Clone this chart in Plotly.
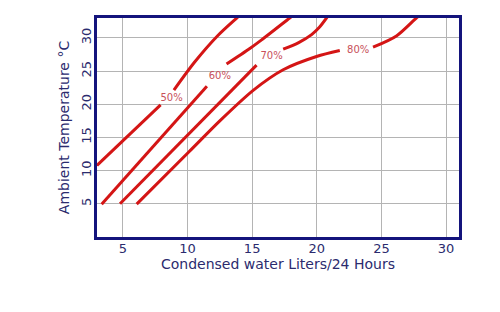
import plotly.graph_objects as go

# Curves (x = condensed water L/24h, y = ambient temperature °C); None = gap for label
x50 = [3.0, 7.92, None, 8.95, 10.57, 12.37, 13.92, 14.3]
y50 = [10.8, 19.9, None, 22.14, 26.4, 30.4, 33.2, 33.9]

x60 = [3.36, 11.5, None, 13.02, 14.82, 15.73, 17.9, 18.3]
y60 = [4.95, 22.7, None, 26.06, 28.4, 29.7, 33.0, 33.6]

x70 = [4.78, 15.34, None, 17.4, 18.6, 19.6, 20.2, 20.75, 21.0]
y70 = [5.0, 25.9, None, 28.3, 29.3, 30.5, 31.6, 33.0, 33.7]

x80 = [6.07, 10.1, 12.5, 15.08, 17.4, 19.98, 21.78, None, 24.35, 26.16, 27.7, 28.1]
y80 = [4.95, 12.8, 17.5, 22.1, 25.2, 27.2, 28.1, None, 28.6, 30.3, 33.0, 33.6]

labels = ["50%", "60%", "70%", "80%"]
label_x = [8.77, 12.5, 16.5, 23.2]
label_y = [20.85, 24.2, 27.15, 28.1]

x_ticks = [5, 10, 15, 20, 25, 30]
y_ticks = [5, 10, 15, 20, 25, 30]

RED = "#d41515"
NAVY = "#14147c"
TXT = "#2b2b6e"

fig = go.Figure()
for xs, ys in [(x50, y50), (x60, y60), (x70, y70), (x80, y80)]:
    fig.add_trace(go.Scatter(x=xs, y=ys, mode="lines",
                             line=dict(color=RED, width=3, shape="spline", smoothing=0.8),
                             connectgaps=False, showlegend=False, hoverinfo="skip"))

fig.add_trace(go.Scatter(x=label_x, y=label_y, mode="text", text=labels,
                         textfont=dict(family="DejaVu Sans", size=10, color="#c8505a"),
                         showlegend=False, hoverinfo="skip"))

fig.update_layout(
    width=500, height=312,
    margin=dict(l=97, r=41, t=18, b=75),
    paper_bgcolor="white", plot_bgcolor="white",
    font=dict(family="DejaVu Sans", color=TXT),
    xaxis=dict(range=[3, 31], tickvals=x_ticks, showgrid=True, gridcolor="#b4b4b4",
               gridwidth=1, zeroline=False, tickfont=dict(size=13, color=TXT),
               ticklabelstandoff=-3,
               title=dict(text="Condensed water Liters/24 Hours", font=dict(size=14, color=TXT),
                          standoff=0),
               ticks="", showline=True, linecolor=NAVY, linewidth=3, mirror=True),
    yaxis=dict(range=[0, 33], tickvals=y_ticks, showgrid=True, gridcolor="#b4b4b4",
               gridwidth=1, zeroline=False, tickfont=dict(size=13, color=TXT), tickangle=-90,
               ticklabelstandoff=-2,
               title=dict(text="Ambient Temperature °C", font=dict(size=14, color=TXT),
                          standoff=6),
               ticks="", showline=True, linecolor=NAVY, linewidth=3, mirror=True),
)

fig.write_html("out.html")
